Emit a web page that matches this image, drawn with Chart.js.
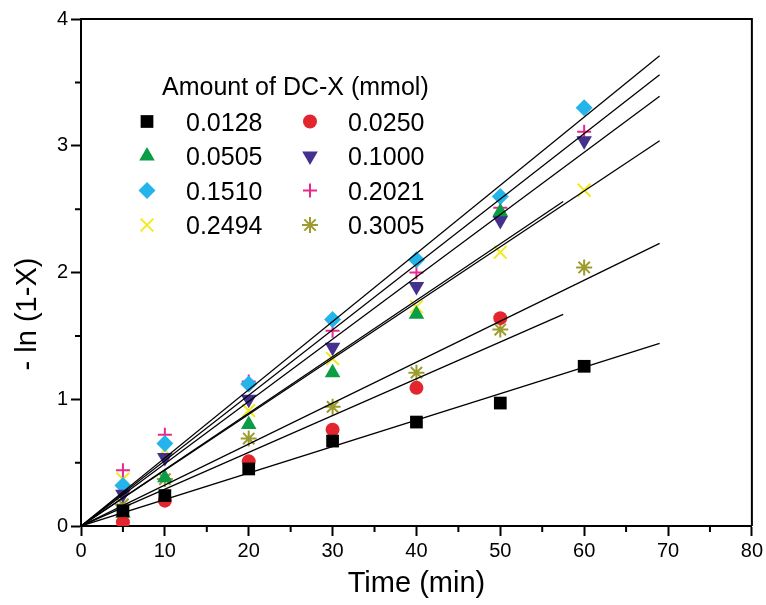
<!DOCTYPE html>
<html>
<head>
<meta charset="utf-8">
<script src="https://cdn.jsdelivr.net/npm/chart.js@4/dist/chart.umd.min.js"></script>
<style>
  html, body { margin: 0; padding: 0; background: #fff; }
  #wrap { width: 766px; height: 605px; position: relative; }
</style>
</head>
<body>
<div id="wrap"><canvas id="kinChart"></canvas></div>
<script>
// sampling times (min)
const times = [5, 10, 20, 30, 40, 50, 60];

// -ln(1-X), one array per amount of DC-X
const amounts = ['0.0128', '0.0250', '0.0505', '0.1000', '0.1510', '0.2021', '0.2494', '0.3005'];
const y0128 = [0.12, 0.24, 0.45, 0.67, 0.82, 0.97, 1.26];
const y0250 = [0.03, 0.20, 0.51, 0.76, 1.09, 1.64];
const y0505 = [0.10, 0.38, 0.80, 1.21, 1.67, 2.48];
const y1000 = [0.25, 0.54, 1.00, 1.41, 1.89, 2.41, 3.04];
const y1510 = [0.32, 0.65, 1.12, 1.63, 2.10, 2.60, 3.30];
const y2021 = [0.44, 0.72, 1.14, 1.54, 2.00, 2.51, 3.11];
const y2494 = [0.37, 0.60, 0.91, 1.32, 1.73, 2.16, 2.65];
const y3005 = [0.17, 0.37, 0.69, 0.94, 1.21, 1.55, 2.04];

// end points of the fitted lines (they all start at the origin)
const fitEndTime = [69, 57.5, 57.5, 69, 69, 69, 69, 69];
const fitEndValue = [1.44, 1.67, 2.56, 3.39, 3.71, 3.56, 3.04, 2.23];

const xTicks = [0, 10, 20, 30, 40, 50, 60, 70, 80];
const yTicks = [0, 1, 2, 3, 4];

const seriesValues = [y0128, y0250, y0505, y1000, y1510, y2021, y2494, y3005];
const markers = [
  { style: 'rect', radius: 9, color: '#000000', fill: true, rot: 0 },
  { style: 'circle', radius: 7, color: '#e3262e', fill: true, rot: 0 },
  { style: 'triangle', radius: 9, color: '#0a9d45', fill: true, rot: 0 },
  { style: 'triangle', radius: 9, color: '#45308e', fill: true, rot: 180 },
  { style: 'rectRot', radius: 8.5, color: '#24b4ec', fill: true, rot: 0 },
  { style: 'cross', radius: 7, color: '#e8288d', fill: false, rot: 0 },
  { style: 'crossRot', radius: 9, color: '#f2ea1c', fill: false, rot: 0 },
  { style: 'star', radius: 8, color: '#9c9c2e', fill: false, rot: 0 }
];

const fontFamily = '"Liberation Sans", Arial, sans-serif';

function toPoints(values) {
  return values.map((v, i) => ({ x: times[i], y: v }));
}

const datasets = [];
amounts.forEach((name, i) => {
  const m = markers[i];
  datasets.push({
    label: name,
    data: toPoints(seriesValues[i]),
    showLine: false,
    pointStyle: m.style,
    pointRotation: m.rot,
    pointRadius: m.radius,
    pointHoverRadius: m.radius,
    backgroundColor: m.fill ? m.color : 'rgba(0,0,0,0)',
    borderColor: m.color,
    pointBorderWidth: m.fill ? 0 : 2,
    order: 2
  });
});
amounts.forEach((name, i) => {
  datasets.push({
    label: 'fit ' + name,
    data: [{ x: 0, y: 0 }, { x: fitEndTime[i], y: fitEndValue[i] }],
    showLine: true,
    borderColor: '#000',
    borderWidth: 1.3,
    pointRadius: 0,
    order: 1
  });
});

// frame on top/right, minor ticks, y title and the two-column legend
const extras = {
  id: 'extras',
  afterDraw(chart) {
    const ctx = chart.ctx;
    const a = chart.chartArea;
    const xs = chart.scales.x, ys = chart.scales.y;
    ctx.save();
    ctx.strokeStyle = '#000';
    ctx.lineWidth = 2;
    ctx.beginPath();
    ctx.moveTo(a.left, a.top);
    ctx.lineTo(a.right, a.top);
    ctx.lineTo(a.right, a.bottom);
    ctx.stroke();

    ctx.beginPath();
    for (let t = 5; t < 80; t += 10) {
      const px = xs.getPixelForValue(t);
      ctx.moveTo(px, a.bottom);
      ctx.lineTo(px, a.bottom + 6);
    }
    for (let v = 0.5; v < 4; v += 1) {
      const py = ys.getPixelForValue(v);
      ctx.moveTo(a.left, py);
      ctx.lineTo(a.left - 6, py);
    }
    ctx.stroke();

    // y axis title
    ctx.save();
    ctx.translate(28, 314);
    ctx.rotate(-Math.PI / 2);
    ctx.fillStyle = '#000';
    ctx.textAlign = 'center';
    ctx.textBaseline = 'middle';
    ctx.font = '29px ' + fontFamily;
    ctx.fillText('- ln (1-X)', 0, 0);
    ctx.restore();

    // legend
    ctx.fillStyle = '#000';
    ctx.textBaseline = 'alphabetic';
    ctx.textAlign = 'left';
    ctx.font = '25px ' + fontFamily;
    ctx.fillText('Amount of DC-X (mmol)', 162, 95);
    const rowY = [121.5, 156, 190.5, 225];
    const colSym = [147, 310];
    const colText = [186, 348];
    amounts.forEach((name, i) => {
      const r = Math.floor(i / 2), c = i % 2;
      const m = markers[i];
      ctx.fillStyle = m.color;
      ctx.strokeStyle = m.color;
      ctx.lineWidth = m.fill ? 0 : 2;
      Chart.helpers.drawPoint(ctx, {
        pointStyle: m.style, radius: m.radius, rotation: m.rot,
        borderWidth: m.fill ? 0 : 2
      }, colSym[c], rowY[r]);
      ctx.fillStyle = '#000';
      ctx.fillText(name, colText[c], rowY[r] + 9);
    });
    ctx.restore();
  }
};

new Chart(document.getElementById('kinChart'), {
  type: 'scatter',
  data: { datasets: datasets },
  options: {
    responsive: true,
    maintainAspectRatio: false,
    animation: false,
    layout: { padding: { top: 19, right: 12, left: 0, bottom: 0 } },
    plugins: {
      legend: { display: false },
      tooltip: { enabled: false }
    },
    scales: {
      x: {
        type: 'linear',
        min: 0,
        max: 80,
        afterBuildTicks: (s) => { s.ticks = xTicks.map(v => ({ value: v })); },
        afterFit: (s) => { s.height = 79; },
        border: { display: true, color: '#000', width: 2 },
        grid: { drawOnChartArea: false, drawTicks: true, tickLength: 10, tickWidth: 2, tickColor: '#000' },
        ticks: { color: '#000', padding: 3, maxRotation: 0, font: { family: fontFamily, size: 20 } },
        title: {
          display: true, text: 'Time (min)', color: '#000',
          font: { family: fontFamily, size: 29 },
          padding: { top: 2, bottom: 4 }
        }
      },
      y: {
        type: 'linear',
        min: 0,
        max: 4,
        afterBuildTicks: (s) => { s.ticks = yTicks.map(v => ({ value: v })); },
        afterFit: (s) => { s.width = 81; },
        border: { display: true, color: '#000', width: 2 },
        grid: { drawOnChartArea: false, drawTicks: true, tickLength: 10, tickWidth: 2, tickColor: '#000' },
        ticks: { color: '#000', padding: 3, font: { family: fontFamily, size: 20 } },
        title: { display: false }
      }
    }
  },
  plugins: [extras]
});
</script>
</body>
</html>
